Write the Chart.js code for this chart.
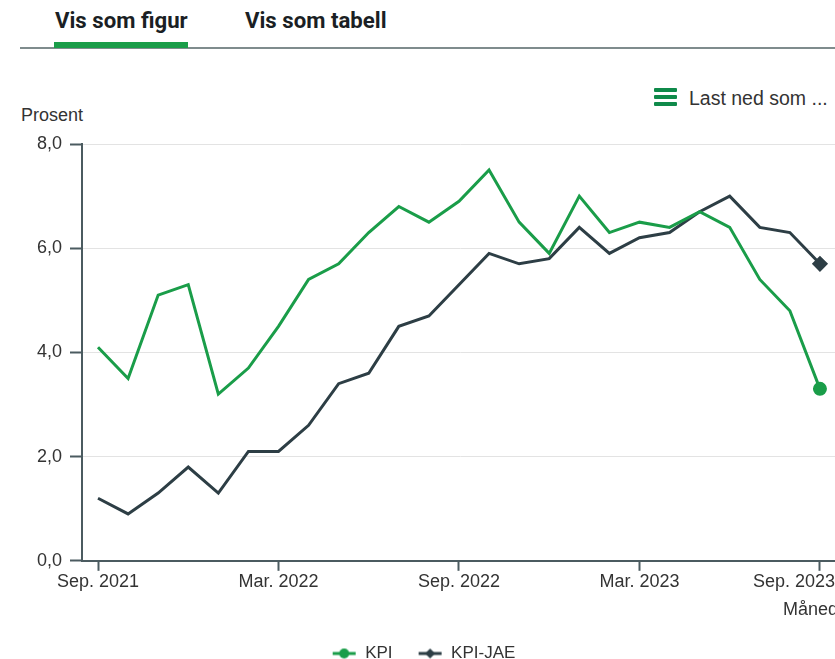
<!DOCTYPE html>
<html lang="no">
<head>
<meta charset="utf-8">
<title>KPI og KPI-JAE</title>
<script src="https://cdn.jsdelivr.net/npm/chart.js@4/dist/chart.umd.min.js"></script>
<style>
  html, body { margin: 0; padding: 0; background: #fff; overflow: hidden; width: 835px; height: 659px; }
  body { position: relative; font-family: "Liberation Sans", Arial, sans-serif; }
  .tabs { position: absolute; left: 20px; top: 0; width: 830px; height: 49px; border-bottom: 2px solid #7f8c8d; box-sizing: border-box; }
  .tab { position: absolute; top: 7px; font-family: Roboto, sans-serif; font-weight: 700; font-size: 22.2px; color: #1b1f24; white-space: nowrap; }
  .tab.active { left: 35px; }
  .tab.active::after { content: ""; position: absolute; left: -1px; right: 0; top: 35px; height: 6px; background: #1a9d49; }
  .tab.other { left: 225px; }
  .export { position: absolute; left: 654px; top: 86px; font-size: 19.5px; color: #333; }
  .export .bars { position: absolute; left: 0; top: 2px; width: 23px; }
  .export .bars span { display: block; height: 4px; background: #0f8a4a; margin-bottom: 3px; border-radius: 1px; }
  .export .txt { position: absolute; left: 35px; top: 1px; white-space: nowrap; }
  .ytitle { position: absolute; left: 21px; top: 105px; font-size: 18px; color: #333; }
  #wrap { position: absolute; left: 0; top: 120px; width: 850px; height: 552px; }
</style>
</head>
<body>
<div class="tabs">
  <div class="tab active">Vis som figur</div>
  <div class="tab other">Vis som tabell</div>
</div>
<div class="export"><div class="bars"><span></span><span></span><span></span></div><div class="txt">Last ned som ...</div></div>
<div class="ytitle">Prosent</div>
<div id="wrap"><canvas id="linea"></canvas></div>
<script>
// månedlige tall, sep. 2021 - sep. 2023
const maaneder = [
  'Sep. 2021', 'Okt. 2021', 'Nov. 2021', 'Des. 2021',
  'Jan. 2022', 'Feb. 2022', 'Mar. 2022', 'Apr. 2022', 'Mai 2022', 'Jun. 2022',
  'Jul. 2022', 'Aug. 2022', 'Sep. 2022', 'Okt. 2022', 'Nov. 2022', 'Des. 2022',
  'Jan. 2023', 'Feb. 2023', 'Mar. 2023', 'Apr. 2023', 'Mai 2023', 'Jun. 2023',
  'Jul. 2023', 'Aug. 2023', 'Sep. 2023'
];
const kpi = [4.1, 3.5, 5.1, 5.3, 3.2, 3.7, 4.5, 5.4, 5.7, 6.3, 6.8, 6.5, 6.9,
             7.5, 6.5, 5.9, 7.0, 6.3, 6.5, 6.4, 6.7, 6.4, 5.4, 4.8, 3.3];
const kpiJae = [1.2, 0.9, 1.3, 1.8, 1.3, 2.1, 2.1, 2.6, 3.4, 3.6, 4.5, 4.7, 5.3,
                5.9, 5.7, 5.8, 6.4, 5.9, 6.2, 6.3, 6.7, 7.0, 6.4, 6.3, 5.7];
const visteMaaneder = [0, 6, 12, 18, 24];
const yTicks = [0, 2, 4, 6, 8];

const GRONN = '#1a9d49';
const MORK = '#2d3e45';
const AKSE = '#4b5b60';
const TEKST = '#333';
const FONT = '"Liberation Sans", Arial, sans-serif';

function punkter(verdier) {
  return verdier.map((v, i) => ({ x: i, y: v }));
}
// bare siste punkt får markør
function sisteRadius(verdier, r) {
  return verdier.map((v, i) => i === verdier.length - 1 ? r : 0);
}

// linje + markør i legenden, med litt luft til venstre
function legendIkon(farge, form) {
  const c = document.createElement('canvas');
  c.width = 34; c.height = 12;
  const ctx = c.getContext('2d');
  ctx.strokeStyle = farge; ctx.fillStyle = farge; ctx.lineWidth = 3;
  ctx.beginPath(); ctx.moveTo(10, 6); ctx.lineTo(33, 6); ctx.stroke();
  ctx.beginPath();
  if (form === 'sirkel') {
    ctx.arc(21.5, 6, 5, 0, Math.PI * 2);
  } else {
    ctx.moveTo(21.5, 1); ctx.lineTo(26.5, 6); ctx.lineTo(21.5, 11); ctx.lineTo(16.5, 6); ctx.closePath();
  }
  ctx.fill();
  return c;
}

// siste månedsetikett høyrejusteres mot kanten
const sisteEtikett = {
  id: 'sisteEtikett',
  afterDraw(chart) {
    const x = chart.scales.x;
    const ctx = chart.ctx;
    const i = visteMaaneder[visteMaaneder.length - 1];
    ctx.save();
    ctx.font = '18px ' + FONT;
    ctx.fillStyle = TEKST;
    ctx.textAlign = 'right';
    ctx.textBaseline = 'middle';
    ctx.fillText(maaneder[i], x.getPixelForValue(i) + 15, x.top + 21);
    ctx.restore();
  }
};

const data = {
  datasets: [{
    label: 'KPI',
    data: punkter(kpi),
    borderColor: GRONN,
    backgroundColor: GRONN,
    borderWidth: 3,
    pointStyle: 'circle',
    pointRadius: sisteRadius(kpi, 5.5),
    pointHoverRadius: 0,
    fill: false,
    tension: 0
  },
  {
    label: 'KPI-JAE',
    data: punkter(kpiJae),
    borderColor: MORK,
    backgroundColor: MORK,
    borderWidth: 3,
    pointStyle: 'rectRot',
    pointRadius: sisteRadius(kpiJae, 6),
    pointHoverRadius: 0,
    fill: false,
    tension: 0
  }]
};

const tickFont = { family: FONT, size: 18 };

const config = {
  type: 'line',
  data: data,
  options: {
    responsive: false,
    animation: false,
    events: [],
    layout: { padding: { top: 24, right: 12, left: 0, bottom: 0 } },
    scales: {
      x: {
        type: 'linear',
        min: -0.532,
        max: 24.6,
        afterBuildTicks: function(scale) {
          scale.ticks = visteMaaneder.map(v => ({ value: v }));
        },
        afterFit: function(scale) {
          // aksen går helt ut til kanten
          scale.paddingLeft = 0;
          scale.paddingRight = 0;
        },
        ticks: {
          autoSkip: false,
          maxRotation: 0,
          color: TEKST,
          font: tickFont,
          padding: 0,
          callback: function(value, index) {
            return index === visteMaaneder.length - 1 ? '' : maaneder[value];
          }
        },
        grid: {
          drawOnChartArea: false,
          tickLength: 10,
          tickWidth: 2,
          tickColor: AKSE
        },
        border: { color: AKSE, width: 2 },
        title: {
          display: true,
          text: 'Måned',
          align: 'end',
          color: TEKST,
          font: tickFont,
          padding: { top: 7, bottom: 8 }
        }
      },
      y: {
        min: 0,
        max: 8,
        afterBuildTicks: function(scale) {
          scale.ticks = yTicks.map(v => ({ value: v }));
        },
        afterFit: function(scale) { scale.width = 82; },
        ticks: {
          color: TEKST,
          font: tickFont,
          padding: 8,
          callback: function(value) { return value.toFixed(1).replace('.', ','); }
        },
        grid: {
          color: '#e3e3e3',
          lineWidth: 1,
          tickLength: 12,
          tickWidth: 2,
          tickColor: AKSE
        },
        border: { color: AKSE, width: 2 }
      }
    },
    plugins: {
      tooltip: { enabled: false },
      legend: {
        position: 'bottom',
        labels: {
          usePointStyle: true,
          pointStyleWidth: 34,
          color: TEKST,
          font: { family: FONT, size: 17 },
          padding: 16,
          generateLabels: function(chart) {
            return chart.data.datasets.map((ds, i) => ({
              text: ds.label,
              datasetIndex: i,
              fontColor: TEKST,
              pointStyle: legendIkon(ds.borderColor, i === 0 ? 'sirkel' : 'diamant'),
              strokeStyle: ds.borderColor,
              fillStyle: ds.borderColor,
              lineWidth: 0
            }));
          }
        }
      }
    }
  },
  plugins: [sisteEtikett]
};

const canvas = document.getElementById('linea');
canvas.width = 850;
canvas.height = 552;
const dataPlot = new Chart(canvas, config);
</script>
</body>
</html>
